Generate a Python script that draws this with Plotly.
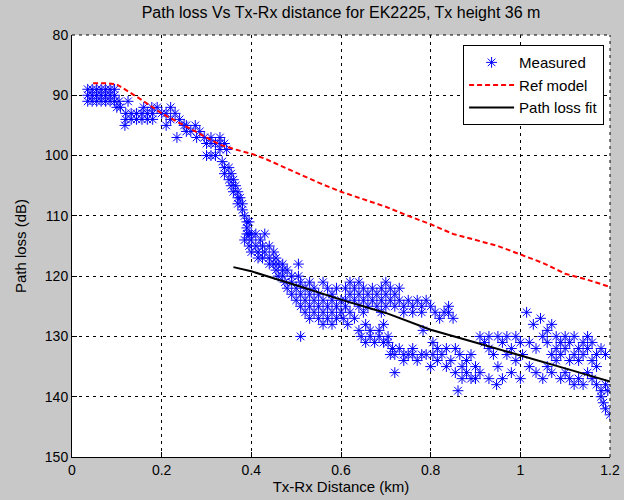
import plotly.graph_objects as go

# Reference model curve (dashed red)
ref_km = [0.047, 0.08, 0.1, 0.15, 0.2, 0.25, 0.3, 0.33, 0.36, 0.4, 0.43, 0.5, 0.55, 0.6,
          0.65, 0.7, 0.75, 0.8, 0.85, 0.9, 0.95, 1.0, 1.05, 1.1, 1.15, 1.2]
ref_db = [88.0, 88.0, 88.2, 90.5, 93.0, 95.0, 97.0, 98.2, 98.9, 99.7, 100.5, 102.8, 104.5, 106.0,
          107.3, 108.5, 110.0, 111.4, 113.0, 114.0, 115.0, 116.4, 117.8, 119.6, 120.6, 121.8]

# Path loss fit (solid black)
fit_km = [0.36, 0.4, 0.5, 0.6, 0.7, 0.8, 0.9, 1.0, 1.1, 1.2]
fit_db = [118.5, 119.2, 121.5, 123.9, 126.1, 128.9, 131.0, 133.1, 135.3, 137.5]

# Measured samples (blue asterisks)
measured_km = [
    0.035, 0.035, 0.035, 0.045, 0.045, 0.045, 0.055, 0.055, 0.055, 0.065, 0.065, 0.065,
    0.075, 0.075, 0.075, 0.085, 0.085, 0.085, 0.095, 0.095, 0.095, 0.1, 0.105, 0.118, 0.125,
    0.12, 0.12, 0.132, 0.132, 0.144, 0.144, 0.156, 0.156, 0.168, 0.168, 0.18, 0.18,
    0.16, 0.178, 0.19, 0.2, 0.21, 0.21, 0.22, 0.22, 0.23, 0.24, 0.25, 0.234, 0.108,
    0.255, 0.255, 0.265, 0.275, 0.278, 0.285, 0.295, 0.3, 0.31, 0.31, 0.32, 0.33, 0.33, 0.34, 0.345,
    0.3, 0.31, 0.32, 0.33,
    0.335, 0.34, 0.34, 0.35, 0.35, 0.355, 0.355, 0.36, 0.36, 0.365, 0.37, 0.37, 0.37,
    0.375, 0.38, 0.38, 0.385, 0.39, 0.39, 0.395, 0.395,
    0.385, 0.39, 0.395, 0.4, 0.4, 0.4, 0.41, 0.41, 0.415, 0.415, 0.42, 0.425, 0.425, 0.43, 0.43,
    0.44, 0.44, 0.44, 0.45, 0.45, 0.455, 0.455, 0.46, 0.46, 0.47, 0.47, 0.47,
    0.475, 0.48, 0.48, 0.49, 0.49, 0.49, 0.5, 0.5, 0.505, 0.505,
    0.51, 0.51, 0.51, 0.51, 0.52, 0.52, 0.52, 0.53, 0.53, 0.53, 0.53,
    0.54, 0.54, 0.54, 0.55, 0.55, 0.55, 0.56, 0.56, 0.56, 0.56,
    0.57, 0.57, 0.57, 0.58, 0.58, 0.58, 0.58, 0.59, 0.59, 0.59, 0.6, 0.6,
    0.61, 0.61, 0.61, 0.62, 0.62, 0.62, 0.63, 0.63, 0.64, 0.64, 0.64, 0.65, 0.65, 0.65,
    0.66, 0.66, 0.67, 0.67, 0.68, 0.68, 0.69, 0.69, 0.69, 0.7, 0.7, 0.7, 0.71, 0.71,
    0.72, 0.72, 0.73, 0.73, 0.74, 0.74, 0.75, 0.76, 0.76, 0.77, 0.78, 0.78, 0.79,
    0.8, 0.81, 0.82, 0.83, 0.84, 0.84, 0.85,
    0.605, 0.615, 0.63, 0.64, 0.645, 0.655, 0.655, 0.665, 0.665, 0.675, 0.685, 0.685,
    0.695, 0.695, 0.705, 0.705, 0.71, 0.715, 0.72, 0.72, 0.73, 0.74, 0.74, 0.75,
    0.76, 0.76, 0.77, 0.78, 0.783, 0.79, 0.8,
    0.805, 0.805, 0.815, 0.815, 0.825, 0.835, 0.835, 0.845, 0.855, 0.855, 0.861, 0.865,
    0.87, 0.87, 0.88, 0.88, 0.89, 0.89, 0.9, 0.9, 0.91, 0.91, 0.92,
    0.93, 0.93, 0.93, 0.94, 0.947, 0.95, 0.95, 0.96, 0.96, 0.97, 0.97,
    0.98, 0.98, 0.99, 0.99, 1.0, 1.0,
    1.005, 1.014, 1.02, 1.02, 1.029, 1.035, 1.035, 1.045, 1.05, 1.05,
    1.06, 1.06, 1.06, 1.07, 1.07, 1.07, 1.08, 1.08, 1.08, 1.09, 1.09, 1.09,
    1.1, 1.1, 1.1, 1.11, 1.11, 1.11, 1.12, 1.12, 1.12, 1.13, 1.13, 1.13,
    1.14, 1.14, 1.14, 1.15, 1.15, 1.15, 1.16, 1.16, 1.16, 1.17, 1.17, 1.17,
    1.18, 1.18, 1.19, 1.19, 1.195, 1.18, 1.185, 1.19, 1.2,
]
measured_db = [
    89, 90, 91, 89, 90, 91, 89, 90, 91, 89, 90, 91,
    89, 90, 91, 89, 90, 91, 89, 90, 91, 92, 91, 95, 91,
    93, 94, 93, 94, 93, 94, 93, 94, 93, 94, 93, 94,
    92, 92, 92, 93, 93, 95, 92, 94, 93, 94, 95, 97, 92,
    95, 96, 96, 95, 97, 96, 97, 98, 97, 98, 98, 97, 98, 98, 99,
    100, 100, 100, 99,
    101, 102, 103, 102, 104, 103, 105, 104, 106, 105, 106, 107, 108,
    107, 108, 109, 110, 111, 112, 111, 113,
    114, 113, 115, 113, 114, 116, 113, 115, 116, 117, 114, 115, 117, 113, 116,
    115, 117, 118, 116, 118, 117, 119, 118, 120, 118, 119, 120,
    121, 119, 122, 120, 121, 123, 122, 124, 118, 120,
    121, 123, 125, 130, 122, 124, 126, 121, 123, 125, 127,
    122, 124, 126, 123, 125, 127, 121, 124, 126, 128,
    122, 125, 127, 123, 124, 126, 128, 122, 125, 127, 124, 126,
    122, 124, 125, 121, 123, 126, 122, 124, 121, 123, 125, 122, 124, 126,
    123, 125, 122, 124, 123, 125, 122, 124, 126, 121, 123, 125, 122, 124,
    123, 125, 124, 122, 125, 126, 124, 125, 126, 124, 125, 126, 124,
    125, 126, 127, 126, 125, 126, 127,
    127, 128, 127, 129, 130, 128, 131, 129, 130, 131, 129, 130,
    128, 131, 130, 131, 133, 132, 133, 136, 132, 133, 134, 133,
    132, 133, 134, 133, 129, 133, 135,
    131, 133, 132, 134, 133, 132, 135, 134, 132, 136, 139, 133,
    135, 137, 134, 136, 133, 137, 135, 137, 130, 136, 131,
    130, 132, 137, 133, 138, 130, 135, 131, 137, 130, 133,
    132, 136, 130, 134, 131, 137,
    133, 126, 131, 135, 128, 132, 136, 127, 130, 137,
    129, 131, 135, 128, 133, 136, 130, 132, 134, 131, 133, 137,
    130, 132, 136, 131, 134, 137, 130, 133, 138, 132, 134, 137,
    131, 133, 138, 130, 132, 136, 131, 134, 137, 133, 135, 138,
    132, 139, 133, 138, 139, 140, 141, 142, 143,
]

title_text = "Path loss Vs Tx-Rx distance for EK2225, Tx height 36 m"
x_title = "Tx-Rx Distance (km)"
y_title = "Path loss (dB)"
x_ticks = [0, 0.2, 0.4, 0.6, 0.8, 1, 1.2]
y_ticks = [80, 90, 100, 110, 120, 130, 140, 150]

font_family = "Liberation Sans, Arial, sans-serif"

fig = go.Figure()
fig.add_trace(go.Scatter(
    x=measured_km, y=measured_db, mode="markers", name="Measured",
    marker=dict(symbol="asterisk-open", size=9, color="#0000ff",
                line=dict(color="#0000ff", width=1)),
))
fig.add_trace(go.Scatter(
    x=ref_km, y=ref_db, mode="lines", name="Ref model",
    line=dict(color="#ff0000", width=2, dash="5px,3px"),
))
fig.add_trace(go.Scatter(
    x=fit_km, y=fit_db, mode="lines", name="Path loss fit",
    line=dict(color="#000000", width=2),
))

grid_common = dict(
    showgrid=True, gridcolor="#000000", gridwidth=1, griddash="3px,4px",
    zeroline=False, showline=True, linecolor="#000000", linewidth=1,
    ticks="inside", ticklen=5, tickcolor="#000000", automargin=False,
    tickfont=dict(family=font_family, size=14, color="#000000"),
)

fig.update_xaxes(range=[0, 1.2], tickvals=x_ticks, ticktext=[str(v) for v in x_ticks],
                 title=dict(text=x_title, font=dict(family=font_family, size=15, color="#000000"),
                            standoff=2),
                 **grid_common)
fig.update_yaxes(range=[150, 80], tickvals=y_ticks,
                 title=dict(text=y_title, font=dict(family=font_family, size=15, color="#000000"),
                            standoff=14),
                 **grid_common)

# dashed top and right box edges, as in the reference
fig.add_shape(type="line", xref="paper", yref="paper", x0=0, x1=1, y0=1, y1=1,
              line=dict(color="#000000", width=1, dash="3px,4px"))
fig.add_shape(type="line", xref="paper", yref="paper", x0=1, x1=1, y0=0, y1=1,
              line=dict(color="#000000", width=1, dash="3px,4px"))

fig.update_layout(
    width=624, height=500,
    margin=dict(l=72, r=14, t=35, b=43, autoexpand=False),
    paper_bgcolor="#c8c8c8", plot_bgcolor="#ffffff",
    title=dict(text=title_text, x=0.5, xref="paper", xanchor="center",
               y=0.975, yref="container", yanchor="middle", automargin=False,
               font=dict(family=font_family, size=16, color="#000000")),
    legend=dict(x=0.989, y=0.976, xanchor="right", yanchor="top",
                bgcolor="#ffffff", bordercolor="#000000", borderwidth=1,
                font=dict(family=font_family, size=15, color="#000000"),
                itemwidth=45, tracegroupgap=2),
    showlegend=True,
)

fig.write_html("out.html", config={"displayModeBar": False},
               post_script="document.body.style.margin='0';document.body.style.padding='0';")
